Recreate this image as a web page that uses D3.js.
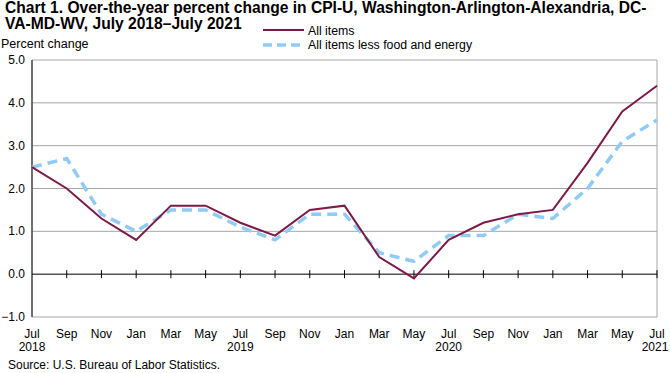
<!DOCTYPE html>
<html>
<head>
<meta charset="utf-8">
<script src="https://cdn.jsdelivr.net/npm/d3@7.9.0/dist/d3.min.js"></script>
<style>
  body { margin: 0; background: #fff; }
  svg text { font-family: "Liberation Sans Narrow", "Arial Narrow", "Liberation Sans", Arial, sans-serif; fill: #000; }
</style>
</head>
<body>
<svg id="chart" width="670" height="373"></svg>
<script>
// data
const months = ["Jul", "Sep", "Nov", "Jan", "Mar", "May", "Jul", "Sep", "Nov", "Jan",
                "Mar", "May", "Jul", "Sep", "Nov", "Jan", "Mar", "May", "Jul"];
const years = { 0: "2018", 6: "2019", 12: "2020", 18: "2021" };
const allItems = [2.5, 2.0, 1.3, 0.8, 1.6, 1.6, 1.2, 0.9, 1.5, 1.6, 0.4, -0.1, 0.8, 1.2, 1.4, 1.5, 2.6, 3.8, 4.4];
const lessFoodEnergy = [2.5, 2.7, 1.4, 1.0, 1.5, 1.5, 1.1, 0.8, 1.4, 1.4, 0.5, 0.3, 0.9, 0.9, 1.4, 1.3, 2.0, 3.1, 3.6];
const yTicks = [-1, 0, 1, 2, 3, 4, 5];

const svg = d3.select("#chart");
const plotL = 32, plotR = 657, plotT = 60, plotB = 317;

const x = d3.scaleLinear().domain([0, months.length - 1]).range([plotL, plotR]);
const y = d3.scaleLinear().domain([-1, 5]).range([plotB, plotT]);

// gridlines
svg.append("g")
  .selectAll("line")
  .data(yTicks.filter(d => d !== 0))
  .enter().append("line")
  .attr("x1", plotL).attr("x2", plotR)
  .attr("y1", d => y(d)).attr("y2", d => y(d))
  .attr("stroke", "#a6a6a6").attr("stroke-width", 1);

// right frame
svg.append("line")
  .attr("x1", plotR).attr("x2", plotR).attr("y1", plotT).attr("y2", plotB)
  .attr("stroke", "#a6a6a6");

// left axis
svg.append("line")
  .attr("x1", plotL).attr("x2", plotL).attr("y1", plotT).attr("y2", plotB)
  .attr("stroke", "#404040").attr("stroke-width", 1.5);

// y labels
svg.append("g")
  .selectAll("text")
  .data(yTicks)
  .enter().append("text")
  .attr("x", 25).attr("y", d => y(d) + 4)
  .attr("text-anchor", "end")
  .attr("font-size", 12)
  .text(d3.format(".1f"));

svg.append("text").attr("x", 1).attr("y", 48).attr("font-size", 12.5).text("Percent change");

// zero line with ticks
svg.append("line")
  .attr("x1", plotL).attr("x2", plotR).attr("y1", y(0)).attr("y2", y(0))
  .attr("stroke", "#000").attr("stroke-width", 1);
svg.append("g")
  .selectAll("line")
  .data(months.map((m, i) => i).slice(1))
  .enter().append("line")
  .attr("x1", d => x(d)).attr("x2", d => x(d))
  .attr("y1", y(0) - 4).attr("y2", y(0) + 4)
  .attr("stroke", "#000");

// x labels
svg.append("g")
  .selectAll("text")
  .data(months)
  .enter().append("text")
  .attr("x", (d, i) => Math.min(x(i), 657)).attr("y", 338)
  .attr("text-anchor", "middle")
  .attr("font-size", 12)
  .text(d => d);
svg.append("g")
  .selectAll("text")
  .data(Object.entries(years))
  .enter().append("text")
  .attr("x", d => Math.min(x(+d[0]), 655)).attr("y", 351)
  .attr("text-anchor", "middle")
  .attr("font-size", 12)
  .text(d => d[1]);

// lines
const line = d3.line().x((d, i) => x(i)).y(d => y(d));
svg.append("path").datum(lessFoodEnergy)
  .attr("d", line).attr("fill", "none")
  .attr("stroke", "#8fcbf4").attr("stroke-width", 3.5)
  .attr("stroke-dasharray", "10,6");
svg.append("path").datum(allItems)
  .attr("d", line).attr("fill", "none")
  .attr("stroke", "#7e1a47").attr("stroke-width", 2);

// title
svg.append("text").attr("x", 5).attr("y", 13).attr("font-size", 15.6).attr("font-weight", "bold")
  .text("Chart 1. Over-the-year percent change in CPI-U, Washington-Arlington-Alexandria, DC-");
svg.append("text").attr("x", 5).attr("y", 29).attr("font-size", 15.6).attr("font-weight", "bold")
  .text("VA-MD-WV, July 2018\u2013July  2021");

// legend
svg.append("line").attr("x1", 263).attr("x2", 304).attr("y1", 30).attr("y2", 30)
  .attr("stroke", "#7e1a47").attr("stroke-width", 2);
svg.append("text").attr("x", 308).attr("y", 35).attr("font-size", 12.3).text("All items");
svg.append("line").attr("x1", 263).attr("x2", 301).attr("y1", 45).attr("y2", 45)
  .attr("stroke", "#8fcbf4").attr("stroke-width", 3.5).attr("stroke-dasharray", "9,5");
svg.append("text").attr("x", 308).attr("y", 48.5).attr("font-size", 12.3).text("All items less food and energy");

// source
svg.append("text").attr("x", 8).attr("y", 369).attr("font-size", 12)
  .text("Source: U.S. Bureau of Labor Statistics.");
</script>
</body>
</html>
